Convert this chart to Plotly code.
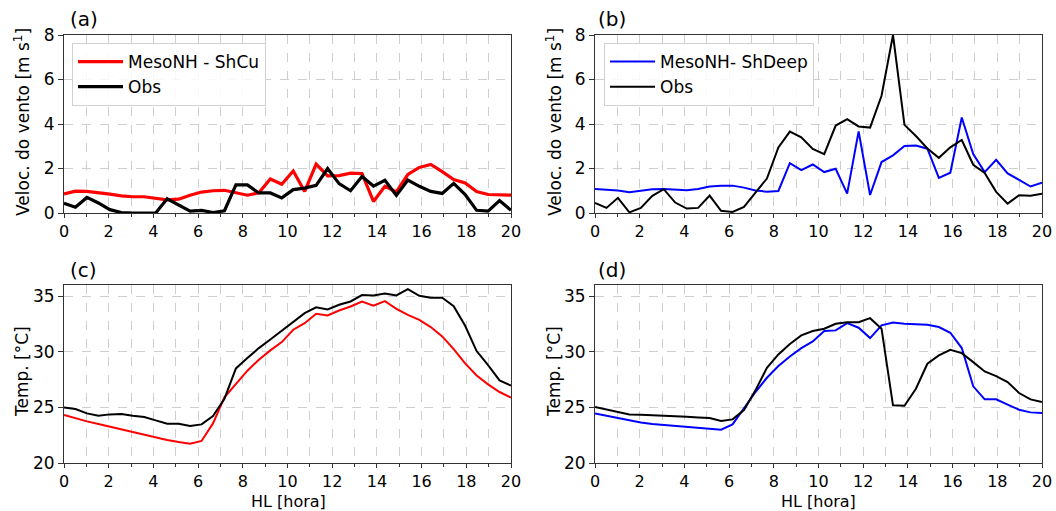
import numpy as np
import plotly.graph_objects as go

# time axis (local hour), 40 samples from 0 to 20 h
hours = np.linspace(0, 20, 40)

wind_shcu = [0.86, 0.98, 0.97, 0.92, 0.85, 0.77, 0.73, 0.73, 0.65, 0.59,
             0.62, 0.80, 0.94, 1.00, 1.02, 0.92, 0.80, 0.91, 1.53, 1.29,
             1.89, 0.97, 2.20, 1.67, 1.68, 1.79, 1.77, 0.52, 1.20, 0.95,
             1.73, 2.05, 2.18, 1.86, 1.50, 1.35, 0.97, 0.83, 0.80, 0.80]
wind_obs_a = [0.44, 0.26, 0.70, 0.45, 0.15, 0.02, 0.00, 0.00, 0.00, 0.64,
              0.35, 0.08, 0.12, 0.02, 0.10, 1.26, 1.26, 0.90, 0.90, 0.68,
              1.05, 1.12, 1.24, 2.00, 1.32, 1.00, 1.64, 1.21, 1.47, 0.79,
              1.48, 1.20, 0.97, 0.88, 1.33, 0.83, 0.12, 0.08, 0.56, 0.12]
wind_shdeep = [1.08, 1.04, 1.01, 0.93, 1.01, 1.07, 1.08, 1.04, 1.02, 1.08,
               1.19, 1.23, 1.23, 1.14, 1.01, 0.96, 0.99, 2.24, 1.93, 2.18,
               1.84, 1.99, 0.87, 3.67, 0.81, 2.29, 2.59, 3.01, 3.03, 2.89,
               1.58, 1.81, 4.29, 2.65, 1.84, 2.39, 1.78, 1.49, 1.19, 1.36]
wind_obs_b = [0.45, 0.23, 0.68, 0.03, 0.23, 0.77, 1.07, 0.47, 0.20, 0.23,
              0.78, 0.10, 0.05, 0.27, 0.92, 1.55, 2.95, 3.66, 3.40, 2.88,
              2.65, 3.93, 4.22, 3.89, 3.84, 5.27, 8.00, 3.96, 3.46, 2.90,
              2.48, 2.95, 3.28, 2.17, 1.80, 0.95, 0.42, 0.80, 0.78, 0.87]
temp_shcu = [24.31, 24.01, 23.74, 23.50, 23.26, 23.02, 22.78, 22.54, 22.31, 22.07,
             21.89, 21.74, 21.98, 23.56, 25.90, 27.10, 28.30, 29.28, 30.12, 30.87,
             31.98, 32.57, 33.41, 33.26, 33.71, 34.07, 34.52, 34.13, 34.55, 33.86,
             33.32, 32.87, 32.22, 31.38, 30.24, 28.95, 27.87, 27.07, 26.38, 25.87]
temp_obs_c = [25.00, 24.85, 24.46, 24.25, 24.37, 24.40, 24.25, 24.13, 23.83, 23.53,
              23.53, 23.32, 23.47, 24.22, 25.78, 28.50, 29.43, 30.33, 31.10, 31.89,
              32.66, 33.47, 34.00, 33.80, 34.22, 34.52, 35.09, 35.06, 35.24, 35.06,
              35.63, 35.03, 34.85, 34.85, 34.10, 32.34, 30.06, 28.80, 27.43, 26.95]
temp_shdeep = [24.46, 24.25, 24.04, 23.83, 23.65, 23.50, 23.41, 23.32, 23.26, 23.17,
               23.08, 22.99, 23.47, 24.94, 26.38, 27.66, 28.71, 29.58, 30.33, 30.93,
               31.86, 31.92, 32.57, 32.16, 31.23, 32.37, 32.63, 32.51, 32.48, 32.43,
               32.22, 31.71, 30.33, 26.89, 25.72, 25.72, 25.24, 24.79, 24.55, 24.49]
temp_obs_d = [25.03, 24.79, 24.58, 24.37, 24.34, 24.31, 24.28, 24.19, 24.16, 24.10,
              24.04, 23.77, 23.92, 24.76, 26.53, 28.56, 29.76, 30.69, 31.47, 31.86,
              32.07, 32.51, 32.66, 32.66, 33.02, 32.07, 25.18, 25.15, 26.68, 28.92,
              29.67, 30.18, 29.88, 29.07, 28.23, 27.81, 27.28, 26.29, 25.72, 25.48]

x_ticks = [0, 2, 4, 6, 8, 10, 12, 14, 16, 18, 20]
wind_ticks = [0, 2, 4, 6, 8]
temp_ticks = [20, 25, 30, 35]

W, H = 1056, 511
FONT = "DejaVu Sans"

def px_x(p):
    return p / W

def px_y(p):
    return 1 - p / H

fig = go.Figure()

# panel (a)
fig.add_trace(go.Scatter(x=hours, y=wind_shcu, mode="lines", name="MesoNH - ShCu",
                         line=dict(color="red", width=3.2), xaxis="x", yaxis="y",
                         legend="legend"))
fig.add_trace(go.Scatter(x=hours, y=wind_obs_a, mode="lines", name="Obs",
                         line=dict(color="black", width=3.2), xaxis="x", yaxis="y",
                         legend="legend"))
# panel (b)
fig.add_trace(go.Scatter(x=hours, y=wind_shdeep, mode="lines", name="MesoNH- ShDeep",
                         line=dict(color="blue", width=2), xaxis="x2", yaxis="y2",
                         legend="legend2"))
fig.add_trace(go.Scatter(x=hours, y=wind_obs_b, mode="lines", name="Obs",
                         line=dict(color="black", width=2), xaxis="x2", yaxis="y2",
                         legend="legend2"))
# panel (c)
fig.add_trace(go.Scatter(x=hours, y=temp_shcu, mode="lines", showlegend=False,
                         line=dict(color="red", width=2), xaxis="x3", yaxis="y3"))
fig.add_trace(go.Scatter(x=hours, y=temp_obs_c, mode="lines", showlegend=False,
                         line=dict(color="black", width=2), xaxis="x3", yaxis="y3"))
# panel (d)
fig.add_trace(go.Scatter(x=hours, y=temp_shdeep, mode="lines", showlegend=False,
                         line=dict(color="blue", width=2), xaxis="x4", yaxis="y4"))
fig.add_trace(go.Scatter(x=hours, y=temp_obs_d, mode="lines", showlegend=False,
                         line=dict(color="black", width=2), xaxis="x4", yaxis="y4"))

left_dom = [px_x(64), px_x(511)]
right_dom = [px_x(595), px_x(1042)]
top_dom = [px_y(213), px_y(35)]
bot_dom = [px_y(463), px_y(285)]

grid_col = "#cfcfcf"
ytickfont = dict(family=FONT, size=17, color="black")
xtickfont = dict(family=FONT, size=16, color="black")

def xax(domain, anchor):
    return dict(domain=domain, anchor=anchor, range=[0, 20], tickvals=x_ticks,
                showline=True, linecolor="#333", linewidth=1, mirror=True,
                ticks="outside", ticklen=4, tickcolor="#333", tickfont=xtickfont,
                showgrid=True, gridcolor=grid_col, griddash="dash", gridwidth=1,
                zeroline=False, automargin=False,
                minor=dict(dtick=1, tick0=0, ticks="outside", ticklen=3, tickcolor="#333",
                           showgrid=True, gridcolor=grid_col, griddash="dash", gridwidth=1))

def yax(domain, anchor, rng, ticks):
    return dict(domain=domain, anchor=anchor, range=rng, tickvals=ticks,
                showline=True, linecolor="#333", linewidth=1, mirror=True,
                ticks="outside", ticklen=5, tickcolor="#333", tickfont=ytickfont,
                showgrid=True, gridcolor=grid_col, griddash="dash", gridwidth=1,
                zeroline=False, automargin=False)

wind_title = "Veloc. do vento [m s<sup>1</sup>]"
temp_title = "Temp. [°C]"

annots = []
for t, xp, yp in [("(a)", 68, 19), ("(b)", 596, 19), ("(c)", 68, 270), ("(d)", 596, 270)]:
    annots.append(dict(text=t, x=px_x(xp), y=px_y(yp), xref="paper", yref="paper",
                       xanchor="left", yanchor="middle", showarrow=False,
                       font=dict(family=FONT, size=20, color="black")))
for t, xp, yp in [(wind_title, 22, 122), (wind_title, 554, 122),
                  (temp_title, 22, 372), (temp_title, 554, 372)]:
    annots.append(dict(text=t, x=px_x(xp), y=px_y(yp), xref="paper", yref="paper",
                       xanchor="center", yanchor="middle", showarrow=False, textangle=-90,
                       font=dict(family=FONT, size=17, color="black")))
for xp in (288, 818):
    annots.append(dict(text="HL [hora]", x=px_x(xp), y=px_y(501), xref="paper", yref="paper",
                       xanchor="center", yanchor="middle", showarrow=False,
                       font=dict(family=FONT, size=16, color="black")))

legend_common = dict(xanchor="left", yanchor="top",
                     bgcolor="rgba(255,255,255,0.85)", bordercolor="#d0d0d0", borderwidth=1,
                     font=dict(family=FONT, size=17, color="black"),
                     itemwidth=45, tracegroupgap=0)

fig.update_layout(
    width=W, height=H,
    margin=dict(l=0, r=0, t=0, b=0),
    paper_bgcolor="white", plot_bgcolor="white",
    font=dict(family=FONT, size=17, color="black"),
    xaxis=xax(left_dom, "y"),
    yaxis=yax(top_dom, "x", [0, 8], wind_ticks),
    xaxis2=xax(right_dom, "y2"),
    yaxis2=yax(top_dom, "x2", [0, 8], wind_ticks),
    xaxis3=xax(left_dom, "y3"),
    yaxis3=yax(bot_dom, "x3", [20, 36], temp_ticks),
    xaxis4=xax(right_dom, "y4"),
    yaxis4=yax(bot_dom, "x4", [20, 36], temp_ticks),
    legend=dict(x=px_x(72), y=px_y(43), **legend_common),
    legend2=dict(x=px_x(604), y=px_y(43), **legend_common),
    annotations=annots,
)

fig.write_html("out.html", config={"displayModeBar": False},
               post_script="document.body.style.margin='0';document.body.style.overflow='hidden';")
